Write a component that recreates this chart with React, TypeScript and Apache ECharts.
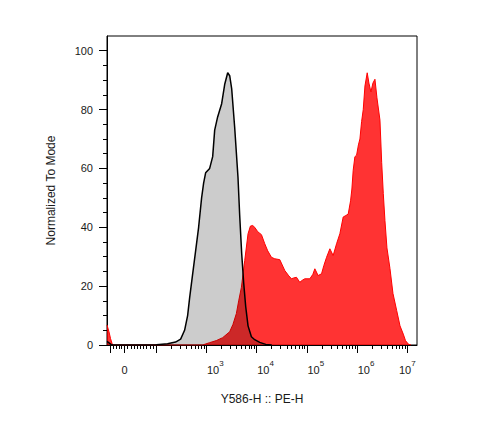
import React, { useEffect, useRef } from "react";
import * as echarts from "echarts";

// Fluorescence intensities (Y586-H :: PE-H) and normalized counts
const redX = [
  -124, -110, -99, -85, 843, 1164, 1581, 2113, 2917, 3388, 3963, 4406, 4989, 5808, 6761, 7536,
  8375, 9183, 10544, 12503, 14555, 16672, 19770, 23014, 28973, 36475, 43752, 49545, 55081, 62373,
  72444, 81283, 91201, 114815, 131826, 144544, 167880, 196336, 218273, 247172, 287740, 334195,
  390841, 454988, 529663, 599791, 666807, 743019, 788860, 837529, 905733, 979490, 1064143,
  1140249, 1233105, 1327394, 1435489, 1592209, 1721869, 1888040, 2070141, 2269865, 2488857,
  2857590, 3090295, 3326595, 3589219, 3935501, 4518559, 5188000, 6151769, 7161434, 8317638,
  9204496, 10471285, 11858000,
];
const redY = [
  6.8, 4.5, 2.2, 0, 0, 0.8, 1.5, 2.5, 4.5, 7, 10.7, 15, 19.6, 28.7, 37.8, 40.4,
  40.6, 40, 38.5, 37.5, 34.4, 32, 29.8, 29.3, 29, 25.3, 23.5, 22.5, 22.8, 23,
  21.3, 22, 22.5, 22.5, 24, 25.9, 23.6, 24.2, 27, 29.8, 32.7, 30.4,
  34.4, 37.8, 43.5, 44, 44.5, 49, 53, 59.4, 64, 64.5, 68,
  70, 76, 80, 88, 92.5, 89, 86, 89, 90.3, 84,
  76.4, 62, 51.5, 42.3, 33, 26, 17.5, 11.7, 6.5, 3.7,
  1.5, 0.3, 0,
];

const grayX = [
  -124, -110, -96, -78, 79, 102, 169, 244, 308, 369, 424, 465, 533, 612, 702, 805, 883, 968,
  1164, 1337, 1466, 1679, 2018, 2317, 2661, 2917, 3199, 3664, 4266, 4613, 5058, 5546, 6081,
  6761, 7888, 9183, 11561, 15214, 20031,
];
const grayY = [
  1.2, 0.7, 0.2, 0, 0, 0.1, 0.4, 1.0, 2.0, 5, 10, 16, 24, 32, 40, 50, 55, 58.5,
  60, 64, 73, 77.5, 82, 88.5, 92.5, 91.5, 87, 74, 57, 44, 31, 21, 13,
  6.5, 2.8, 1.8, 0.9, 0.2, 0,
];

// Axis ticks (intensity values)
const xLabelValues = [0, 1e3, 1e4, 1e5, 1e6, 1e7];
const xMajorTicks = [-100, 0, 100, 1e3, 1e4, 1e5, 1e6, 1e7];
const xNegMinor = [-20, -40, -60, -80];
const xLinMinor = [10, 20, 30, 40, 50, 60, 70, 80, 90];
const xLogDecades = [2, 3, 4, 5, 6];
const xLogMinorSteps = [2, 3, 4, 5, 6, 7, 8, 9];
const yMajorTicks = [0, 20, 40, 60, 80, 100];
const yMinorTicks = [5, 10, 15, 25, 30, 35, 45, 50, 55, 65, 70, 75, 85, 90, 95];

const X_MIN_INTENSITY = -124;
const X_MAX_INTENSITY = 1.56e7;

// biexponential-like display transform
const ZERO = 1.37;
function biex(v: number): number {
  if (v >= 100) return Math.log10(v);
  if (v >= 0) return ZERO + (v / 100) * (2 - ZERO);
  return ZERO + (v / 100) * 0.28;
}

const FONT = "'Liberation Sans', Arial, sans-serif";
const TXT = "#1a1a1a";

export default function App() {
  const ref = useRef<HTMLDivElement>(null);
  useEffect(() => {
    if (!ref.current) return;
    const chart = echarts.init(ref.current, null, { renderer: "svg" });
    const xMin = biex(X_MIN_INTENSITY);
    const xMax = biex(X_MAX_INTENSITY);
    const minorX: number[] = [];
    xNegMinor.forEach((v) => minorX.push(biex(v)));
    xLinMinor.forEach((v) => minorX.push(biex(v)));
    xLogDecades.forEach((d) =>
      xLogMinorSteps.forEach((k) => minorX.push(biex(k * Math.pow(10, d))))
    );
    const zeroPos = biex(0);
    chart.setOption({
      animation: false,
      grid: {
        left: 107,
        top: 36,
        width: 310,
        height: 309,
        show: true,
        borderColor: "#000",
        borderWidth: 1,
        backgroundColor: "transparent",
      },
      xAxis: [
        {
          type: "value",
          min: xMin,
          max: xMax,
          position: "bottom",
          axisLine: { show: true, onZero: false, lineStyle: { color: "#000", width: 1 } },
          axisTick: {
            show: true,
            length: 8,
            customValues: xMajorTicks.map(biex),
            lineStyle: { color: "#000", width: 1 },
          },
          axisLabel: {
            show: true,
            customValues: xLabelValues.map(biex),
            margin: 14,
            color: TXT,
            fontFamily: FONT,
            formatter: (v: number) => {
              if (Math.abs(v - zeroPos) < 1e-6) return "{b|0}";
              const e = Math.round(v);
              if (e >= 7) return "{bq|10}{s|" + e + "}";
              return "{bp|10}{s|" + e + "}";
            },
            rich: {
              b: { fontSize: 11, lineHeight: 21, fontFamily: FONT, color: TXT },
              bp: { fontSize: 11, lineHeight: 21, padding: [0, 0, 0, 18], fontFamily: FONT, color: TXT },
              bq: { fontSize: 11, lineHeight: 21, padding: [0, 0, 0, 0], fontFamily: FONT, color: TXT },
              s: { fontSize: 8, lineHeight: 8, padding: [0, 0, 13, 0], fontFamily: FONT, color: TXT },
              sq: { fontSize: 8, lineHeight: 8, padding: [0, 4, 13, 0], fontFamily: FONT, color: TXT },
            },
          },
          splitLine: { show: false },
          name: "Y586-H :: PE-H",
          nameLocation: "middle",
          nameGap: 48,
          nameTextStyle: { fontSize: 12, color: TXT, fontFamily: FONT },
        },
        {
          type: "value",
          min: xMin,
          max: xMax,
          position: "bottom",
          axisLine: { show: false, onZero: false },
          axisTick: {
            show: true,
            length: 4,
            customValues: minorX,
            lineStyle: { color: "#000", width: 1 },
          },
          axisLabel: { show: false },
          splitLine: { show: false },
        },
      ],
      yAxis: [
        {
          type: "value",
          min: 0,
          max: 105,
          position: "left",
          axisLine: { show: true, onZero: false, lineStyle: { color: "#000", width: 1 } },
          axisTick: {
            show: true,
            length: 8,
            customValues: yMajorTicks,
            lineStyle: { color: "#000", width: 1 },
          },
          axisLabel: {
            customValues: yMajorTicks,
            margin: 14,
            fontSize: 11,
            color: TXT,
            fontFamily: FONT,
          },
          splitLine: { show: false },
          name: "Normalized To Mode",
          nameLocation: "middle",
          nameGap: 50,
          nameTextStyle: { fontSize: 12, color: TXT, fontFamily: FONT },
        },
        {
          type: "value",
          min: 0,
          max: 105,
          position: "left",
          axisLine: { show: false, onZero: false },
          axisTick: {
            show: true,
            length: 4,
            customValues: yMinorTicks,
            lineStyle: { color: "#000", width: 1 },
          },
          axisLabel: { show: false },
          splitLine: { show: false },
        },
      ],
      series: [
        {
          type: "line",
          name: "stained",
          xAxisIndex: 0,
          yAxisIndex: 0,
          data: redX.map((x, i) => [biex(x), redY[i]]),
          showSymbol: false,
          smooth: false,
          lineStyle: { color: "#ff0000", width: 1 },
          areaStyle: { color: "rgba(255,0,0,0.8)", opacity: 1 },
          z: 2,
        },
        {
          type: "line",
          name: "control",
          xAxisIndex: 0,
          yAxisIndex: 0,
          data: grayX.map((x, i) => [biex(x), grayY[i]]),
          showSymbol: false,
          smooth: false,
          lineStyle: { color: "#000", width: 1.5 },
          areaStyle: { color: "rgba(0,0,0,0.2)", opacity: 1 },
          z: 3,
        },
      ],
    });
    return () => chart.dispose();
  }, []);
  return (
    <div
      ref={ref}
      style={{ position: "absolute", left: 0, top: 0, width: 478, height: 439, background: "#fff" }}
    />
  );
}
